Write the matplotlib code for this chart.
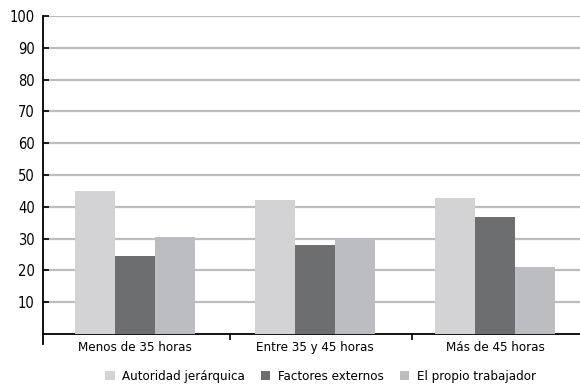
import matplotlib
matplotlib.use("Agg")
import matplotlib.pyplot as plt
import numpy as np

categorias = ["Menos de 35 horas", "Entre 35 y 45 horas", "Más de 45 horas"]
series = ["Autoridad jerárquica", "Factores externos", "El propio trabajador"]
autoridad = [45.0, 42.1, 42.8]
factores = [24.5, 28.0, 36.8]
propio = [30.5, 30.2, 21.1]
colores = ["#d3d3d5", "#6d6e70", "#bcbdc0"]

plt.rcParams["font.family"] = ["DejaVu Sans"]
plt.rcParams["font.stretch"] = "condensed"

fig = plt.figure(figsize=(5.8, 3.85), dpi=100)
ax = fig.add_axes([43 / 580, 1 - 334 / 385, 1 - 43 / 580, 318 / 385])

x = np.arange(len(categorias))
ancho = 0.222
for i, (vals, nombre) in enumerate(zip([autoridad, factores, propio], series)):
    ax.bar(x + (i - 1) * ancho, vals, width=ancho, color=colores[i], label=nombre, zorder=3)

ax.set_ylim(0, 100)
ax.set_yticks(range(10, 101, 10))
ax.yaxis.grid(True, color="#bdbdbd", linewidth=1.6, zorder=0)
ax.set_xlim(-0.51, 2.47)

ax.set_xticks(x)
ax.set_xticklabels(categorias, fontsize=9.5)
ax.set_xticks([0.53, 1.54], minor=True)
ax.tick_params(axis="x", which="major", length=0, pad=5)
ax.tick_params(axis="x", which="minor", length=4, width=1.2, direction="out")
ax.tick_params(axis="y", length=4, width=1.2, direction="in", labelsize=10.5, pad=6)

for lado in ["top", "right"]:
    ax.spines[lado].set_visible(False)
for lado in ["left", "bottom"]:
    ax.spines[lado].set_linewidth(1.3)
    ax.spines[lado].set_color("black")
ax.spines["left"].set_bounds(-3, 100)

fig.legend(loc="lower center", bbox_to_anchor=(0.553, -0.025), ncol=3, frameon=False,
           fontsize=9.5, handlelength=0.7, handleheight=0.7, handletextpad=0.6,
           columnspacing=1.2)

fig.savefig("out.png", dpi=100)
